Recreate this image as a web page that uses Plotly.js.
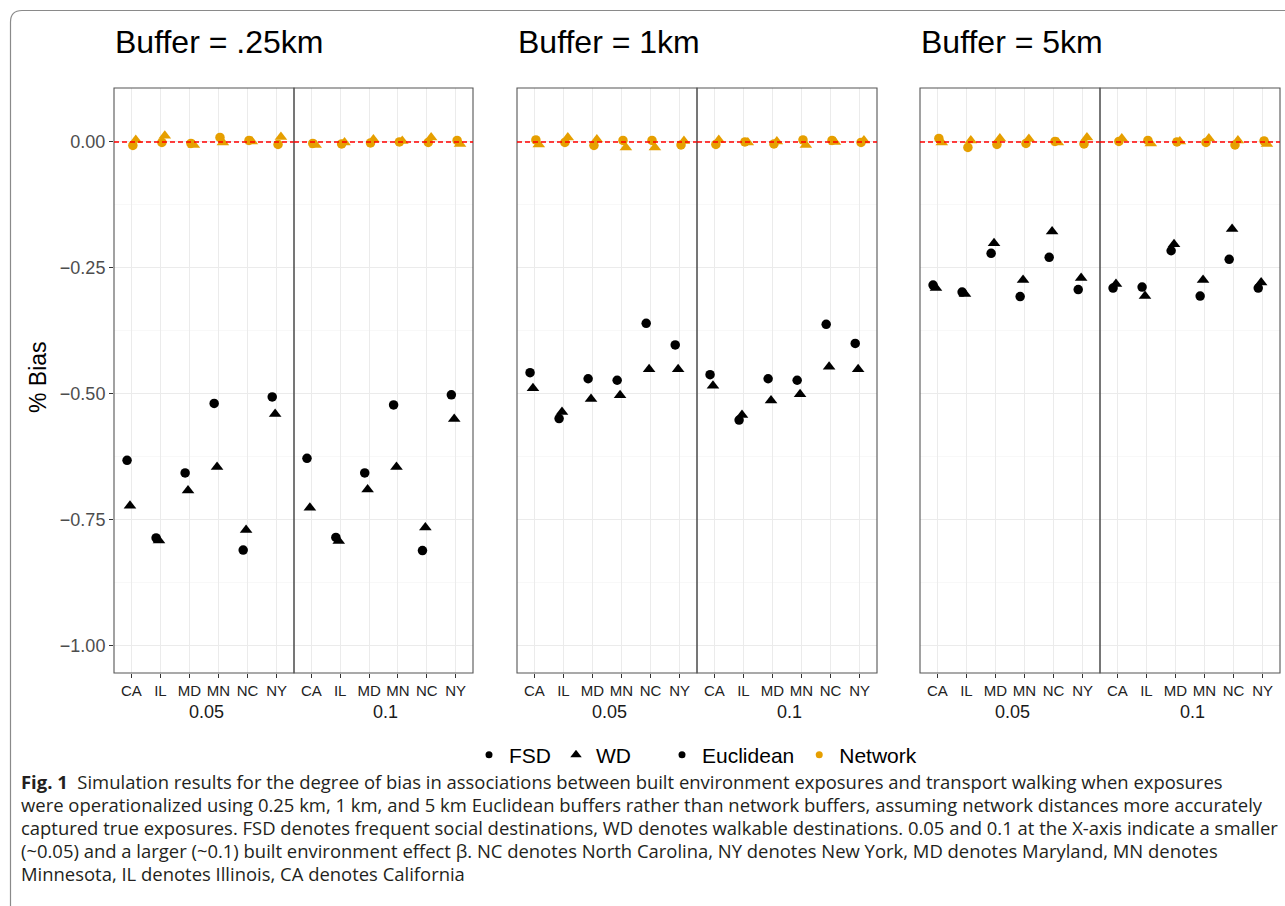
<!DOCTYPE html>
<html>
<head>
<meta charset="utf-8">
<script src="https://cdn.plot.ly/plotly-3.0.1.min.js"></script>
<style>html,body{margin:0;padding:0;background:#fff}#chart{width:1285px;height:906px}</style>
</head>
<body>
<div id="chart"></div>
<script>
// ---- data ----
const states = ['CA', 'IL', 'MD', 'MN', 'NC', 'NY'];
const bufferTitles = ['Buffer = .25km', 'Buffer = 1km', 'Buffer = 5km'];
const effects = ['0.05', '0.1'];
const yTicks = [-1, -0.75, -0.5, -0.25, 0];

// Buffer .25km
const eucFSD_025_005 = [-0.632, -0.786, -0.657, -0.519, -0.810, -0.506];
const eucWD_025_005  = [-0.722, -0.791, -0.692, -0.645, -0.770, -0.540];
const netFSD_025_005 = [-0.007, -0.001, -0.003, 0.009, 0.003, -0.005];
const netWD_025_005  = [0.004, 0.012, -0.006, -0.001, 0.001, 0.010];
const eucFSD_025_01  = [-0.628, -0.785, -0.657, -0.522, -0.811, -0.502];
const eucWD_025_01   = [-0.726, -0.792, -0.690, -0.645, -0.765, -0.550];
const netFSD_025_01  = [-0.003, -0.004, -0.002, 0.000, -0.001, 0.003];
const netWD_025_01   = [-0.006, -0.001, 0.005, 0.002, 0.009, -0.004];
// Buffer 1km
const eucFSD_1_005 = [-0.458, -0.549, -0.470, -0.473, -0.360, -0.403];
const eucWD_1_005  = [-0.489, -0.536, -0.510, -0.503, -0.451, -0.451];
const netFSD_1_005 = [0.004, -0.001, -0.007, 0.003, 0.003, -0.006];
const netWD_1_005  = [-0.005, 0.009, 0.005, -0.011, -0.011, 0.002];
const eucFSD_1_01  = [-0.462, -0.552, -0.470, -0.473, -0.362, -0.400];
const eucWD_1_01   = [-0.484, -0.542, -0.513, -0.501, -0.446, -0.451];
const netFSD_1_01  = [-0.005, 0.000, -0.004, 0.004, 0.003, -0.001];
const netWD_1_01   = [0.004, -0.001, 0.001, -0.006, 0.000, 0.003];
// Buffer 5km
const eucFSD_5_005 = [-0.284, -0.298, -0.221, -0.307, -0.229, -0.293];
const eucWD_5_005  = [-0.290, -0.302, -0.201, -0.274, -0.178, -0.270];
const netFSD_5_005 = [0.007, -0.011, -0.005, -0.003, 0.001, -0.004];
const netWD_5_005  = [-0.001, 0.003, 0.007, 0.006, -0.001, 0.009];
const eucFSD_5_01  = [-0.290, -0.288, -0.216, -0.306, -0.233, -0.290];
const eucWD_5_01   = [-0.282, -0.306, -0.203, -0.274, -0.173, -0.279];
const netFSD_5_01  = [0.001, 0.003, 0.000, -0.001, -0.006, 0.002];
const netWD_5_01   = [0.007, -0.003, 0.001, 0.007, 0.003, -0.004];

const captionLines = [
  '<b>Fig. 1</b>  Simulation results for the degree of bias in associations between built environment exposures and transport walking when exposures',
  'were operationalized using 0.25 km, 1 km, and 5 km Euclidean buffers rather than network buffers, assuming network distances more accurately',
  'captured true exposures. FSD denotes frequent social destinations, WD denotes walkable destinations. 0.05 and 0.1 at the X-axis indicate a smaller',
  '(~0.05) and a larger (~0.1) built environment effect β. NC denotes North Carolina, NY denotes New York, MD denotes Maryland, MN denotes',
  'Minnesota, IL denotes Illinois, CA denotes California'
];

// panels in order: [buffer index, effect index, series]
const panels = [
  {b: 0, e: 0, s: [eucFSD_025_005, eucWD_025_005, netFSD_025_005, netWD_025_005]},
  {b: 0, e: 1, s: [eucFSD_025_01, eucWD_025_01, netFSD_025_01, netWD_025_01]},
  {b: 1, e: 0, s: [eucFSD_1_005, eucWD_1_005, netFSD_1_005, netWD_1_005]},
  {b: 1, e: 1, s: [eucFSD_1_01, eucWD_1_01, netFSD_1_01, netWD_1_01]},
  {b: 2, e: 0, s: [eucFSD_5_005, eucWD_5_005, netFSD_5_005, netWD_5_005]},
  {b: 2, e: 1, s: [eucFSD_5_01, eucWD_5_01, netFSD_5_01, netWD_5_01]}
];

// ---- layout geometry (px) ----
const W = 1285, H = 906;
const FONT = 'Liberation Sans, Arial, sans-serif';
const xPx = [[114, 294], [294, 473], [517, 697], [697, 877], [920, 1100], [1100, 1280]];
const yTopPx = 88, yBotPx = 673;
const px = v => v / W;
const py = v => 1 - v / H;

const BLACK = '#000000', ORANGE = '#E69F00';
const styles = [
  {color: BLACK, symbol: 'circle', size: 9.5},
  {color: BLACK, symbol: 'triangle-up', size: 11},
  {color: ORANGE, symbol: 'circle', size: 9.5},
  {color: ORANGE, symbol: 'triangle-up', size: 11}
];

const traces = [];
const layout = {
  width: W, height: H,
  margin: {l: 0, r: 0, t: 0, b: 0},
  paper_bgcolor: '#fff', plot_bgcolor: '#fff',
  font: {family: FONT, color: '#000'},
  scattermode: 'group',
  scattergap: 0.6,
  showlegend: true,
  shapes: [], annotations: []
};

panels.forEach((p, i) => {
  const sfx = i === 0 ? '' : String(i + 1);
  p.s.forEach((vals, k) => {
    traces.push({
      type: 'scatter', mode: 'markers',
      x: states, y: vals,
      xaxis: 'x' + sfx, yaxis: 'y' + sfx,
      marker: {color: styles[k].color, symbol: styles[k].symbol, size: styles[k].size, line: {width: 0}},
      showlegend: false, hoverinfo: 'y'
    });
  });
  layout['xaxis' + sfx] = {
    domain: [px(xPx[i][0]), px(xPx[i][1])],
    anchor: 'y' + sfx,
    type: 'category', categoryarray: states, categoryorder: 'array',
    range: [-0.6, states.length - 0.4],
    showgrid: true, gridcolor: '#EBEBEB', gridwidth: 1.1,
    zeroline: false, showline: false,
    ticks: 'outside', ticklen: 4, tickcolor: '#333', tickwidth: 1,
    tickfont: {size: 15, color: '#222', family: FONT},
    fixedrange: true
  };
  layout['yaxis' + sfx] = {
    domain: [py(yBotPx), py(yTopPx)],
    anchor: 'x' + sfx,
    range: [-1.054, 0.107],
    tickvals: yTicks, tickformat: '.2f',
    showticklabels: i === 0,
    ticks: i === 0 ? 'outside' : '', ticklen: 4, tickcolor: '#333', tickwidth: 1,
    tickfont: {size: 18, color: '#4D4D4D', family: FONT},
    showgrid: true, gridcolor: '#EBEBEB', gridwidth: 1.1,
    minor: {dtick: 0.125, tick0: 0, showgrid: true, gridcolor: '#F3F3F3', gridwidth: 0.6},
    zeroline: false, showline: false, fixedrange: true
  };
  // panel border
  layout.shapes.push({
    type: 'rect', xref: 'x' + sfx + ' domain', yref: 'y' + sfx + ' domain',
    x0: 0, x1: 1, y0: 0, y1: 1, line: {color: '#555', width: 1.1}, layer: 'above'
  });
  // reference line at 0
  layout.shapes.push({
    type: 'line', xref: 'x' + sfx + ' domain', yref: 'y' + sfx,
    x0: 0, x1: 1, y0: 0, y1: 0, line: {color: '#FF0000', width: 1.5, dash: '5px,3px'}, layer: 'above'
  });
  // facet label (effect size)
  layout.annotations.push({
    text: effects[p.e], xref: 'paper', yref: 'paper',
    x: px((xPx[i][0] + xPx[i][1]) / 2 + 2), y: py(712),
    xanchor: 'center', yanchor: 'middle', showarrow: false,
    font: {size: 18, color: '#1A1A1A', family: FONT}
  });
});

// buffer titles
[114, 517, 920].forEach((x0, b) => {
  layout.annotations.push({
    text: bufferTitles[b], xref: 'paper', yref: 'paper',
    x: px(x0 - 1), y: py(42), xanchor: 'left', yanchor: 'middle', showarrow: false,
    font: {size: 32, color: '#000', family: FONT}
  });
});

// y-axis title
layout.annotations.push({
  text: '% Bias', xref: 'paper', yref: 'paper', x: px(38), y: py(377),
  xanchor: 'center', yanchor: 'middle', textangle: -90, showarrow: false,
  font: {size: 23, color: '#000', family: FONT}
});

// caption
captionLines.forEach((t, j) => {
  layout.annotations.push({
    text: t, xref: 'paper', yref: 'paper', x: px(19), y: py(781 + 23 * j),
    xanchor: 'left', yanchor: 'middle', showarrow: false, align: 'left',
    font: {size: 18.45, color: '#231F20', family: 'Open Sans, Noto Sans, sans-serif'}
  });
});

// figure frame with rounded corner
const fx = px(10.5), fy = py(10.5);
layout.shapes.push({
  type: 'path', xref: 'paper', yref: 'paper',
  path: `M ${fx},0 L ${fx},${py(22)} Q ${fx},${fy} ${px(22)},${fy} L 1,${fy}`,
  line: {color: '#8A8A8A', width: 1.2}
});

// legend-only traces on a hidden axis pair
layout.xaxis7 = {domain: [0, 0.01], anchor: 'y7', visible: false, range: [0, 1]};
layout.yaxis7 = {domain: [0, 0.01], anchor: 'x7', visible: false, range: [0, 1]};
const legendItems = [
  {name: 'FSD', color: BLACK, symbol: 'circle', size: 7, legend: 'legend'},
  {name: 'WD', color: BLACK, symbol: 'triangle-up', size: 10, legend: 'legend'},
  {name: 'Euclidean', color: BLACK, symbol: 'circle', size: 7, legend: 'legend2'},
  {name: 'Network', color: ORANGE, symbol: 'circle', size: 7, legend: 'legend2'}
];
legendItems.forEach(it => {
  traces.push({
    type: 'scatter', mode: 'markers', x: [null], y: [null],
    xaxis: 'x7', yaxis: 'y7', name: it.name, legend: it.legend,
    marker: {color: it.color, symbol: it.symbol, size: it.size}, showlegend: true
  });
});
const legendCommon = {
  orientation: 'h', yanchor: 'middle', xanchor: 'left', y: py(755),
  font: {size: 21, color: '#000', family: FONT}, bgcolor: 'rgba(0,0,0,0)',
  itemclick: false, itemdoubleclick: false
};
layout.legend = Object.assign({}, legendCommon, {x: px(469)});
layout.legend2 = Object.assign({}, legendCommon, {x: px(662)});

Plotly.newPlot('chart', traces, layout, {displayModeBar: false, staticPlot: true});
</script>
</body>
</html>
